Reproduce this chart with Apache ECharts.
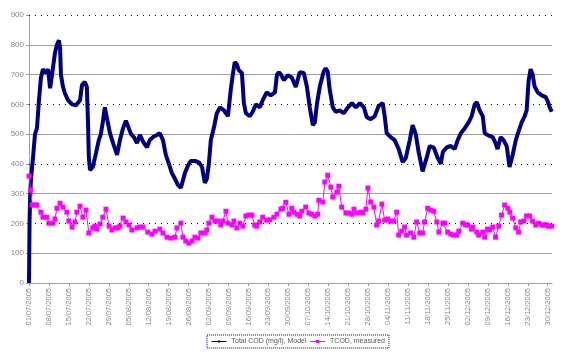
<!DOCTYPE html>
<html>
<head>
<meta charset="utf-8">
<script src="https://cdn.jsdelivr.net/npm/echarts@6/dist/echarts.min.js"></script>
<style>
  html, body { margin: 0; padding: 0; background: #fff; }
  #chart { width: 567px; height: 353px; }
</style>
</head>
<body>
<div id="chart"></div>
<script>
// days counted from 01/07/2005
const startDate = Date.UTC(2005, 6, 1)

const modelDays = [0, 0.2, 0.4, 0.7, 1.4, 2.1, 2.8, 3.5, 4.2, 4.9, 6.0, 6.7, 7.4, 8.1, 9.1, 9.8, 10.5, 10.9, 11.2, 11.9,
  12.6, 13.7, 15.1, 16.5, 17.9, 18.6, 19.6, 20.3, 20.7, 21.0, 21.4, 22.4, 23.5, 24.5, 25.2, 25.9, 26.6, 27.0, 27.7, 28.4,
  29.5, 30.9, 31.9, 33.0, 34.0, 34.7, 35.8, 36.8, 37.9, 38.9, 40.3, 41.4, 42.4, 43.5, 44.9, 45.9, 47.0, 48.0, 49.1, 50.1,
  51.2, 52.2, 53.3, 54.0, 54.7, 55.8, 56.8, 58.2, 59.6, 60.7, 61.7, 62.4, 63.1, 63.8, 64.9, 65.9, 67.0, 68.4, 69.8, 70.8,
  71.5, 72.2, 72.9, 73.6, 74.7, 75.4, 76.1, 77.5, 78.5, 79.6, 81.0, 82.0, 83.4, 84.8, 86.3, 87.0, 87.7, 88.4, 89.4, 90.8,
  92.2, 93.6, 95.0, 96.4, 97.5, 98.5, 99.6, 100.3, 101.0, 102.0, 103.4, 104.1, 104.8, 105.5, 106.6, 107.6, 109.0, 110.4, 111.9, 113.3,
  114.7, 116.1, 117.5, 118.5, 119.9, 121.3, 122.7, 124.1, 124.8, 125.5, 126.9, 128.3, 129.7, 131.1, 132.2, 133.6, 134.6, 135.7, 136.7, 138.1,
  139.5, 140.6, 142.0, 143.4, 144.5, 145.2, 146.6, 148.0, 149.4, 150.4, 151.5, 152.9, 154.3, 155.3, 156.4, 157.1, 158.1, 159.2, 159.9, 161.3,
  162.7, 163.7, 164.4, 165.5, 166.5, 167.6, 168.6, 169.7, 170.8, 171.8, 172.9, 173.9, 174.6, 175.3, 176.0, 176.7, 177.4, 178.5, 179.9, 181.3,
  182.0, 182.7, 183.4]
const modelValues = [0, 210, 290, 350, 420, 500, 520, 614, 690, 718, 705, 718, 654, 700, 772, 800, 815, 790, 700, 660,
  637, 614, 600, 597, 614, 665, 675, 658, 540, 420, 379, 390, 436, 480, 500, 540, 590, 594, 537, 503,
  470, 430, 480, 520, 545, 550, 500, 490, 470, 497, 470, 456, 480, 490, 497, 503, 480, 430, 400, 370,
  350, 330, 320, 318, 369, 395, 410, 410, 405, 390, 336, 350, 400, 480, 523, 570, 590, 580, 560, 650,
  700, 742, 735, 715, 705, 604, 570, 560, 575, 600, 590, 614, 640, 630, 640, 700, 708, 700, 681, 698,
  690, 658, 708, 705, 660, 590, 530, 540, 600, 658, 710, 721, 710, 650, 590, 575, 580, 570, 590, 604,
  590, 604, 590, 557, 550, 560, 595, 604, 560, 503, 490, 480, 450, 406, 420, 480, 530, 500, 440, 375,
  420, 460, 455, 420, 400, 440, 456, 460, 450, 480, 503, 520, 540, 560, 600, 607, 580, 560, 503, 495,
  490, 470, 450, 490, 480, 460, 390, 430, 480, 510, 540, 560, 580, 680, 718, 700, 660, 640, 630, 624,
  610, 590, 575]

const measuredDays = [0, 0.6, 1.1, 2.1, 2.8, 4.2, 4.9, 6.3, 7.0, 8.4, 9.1, 9.8, 10.9, 11.9, 13.3, 14.0, 15.1, 16.1, 16.8, 17.9,
  18.9, 20.0, 21.0, 22.4, 23.1, 23.8, 24.9, 25.9, 27.0, 28.1, 29.1, 30.2, 31.2, 31.9, 33.0, 34.0, 35.1, 36.1, 37.9, 38.9,
  40.0, 41.7, 43.1, 44.2, 45.9, 47.0, 48.4, 49.8, 51.2, 51.9, 53.3, 54.0, 55.0, 56.1, 57.2, 58.2, 59.3, 60.3, 61.7, 62.4,
  63.1, 64.2, 65.2, 66.3, 67.3, 68.0, 69.1, 69.8, 71.2, 71.9, 72.9, 74.0, 75.0, 76.1, 77.1, 78.2, 79.2, 79.9, 81.0, 82.0,
  83.4, 84.5, 85.9, 87.0, 88.4, 89.1, 90.1, 91.2, 92.2, 92.9, 94.0, 95.0, 95.7, 97.1, 98.2, 99.2, 100.3, 101.3, 101.7, 103.1,
  103.8, 104.8, 105.9, 106.6, 108.0, 108.7, 109.7, 111.2, 112.2, 113.3, 114.0, 115.0, 116.4, 117.1, 118.2, 118.9, 119.9, 121.0, 122.0, 122.7,
  123.8, 124.8, 125.9, 126.9, 128.0, 129.0, 129.7, 130.8, 131.8, 132.5, 133.9, 135.0, 136.0, 137.1, 138.1, 138.8, 139.9, 141.0, 142.0, 143.1,
  143.8, 145.2, 145.9, 146.9, 148.0, 149.0, 150.1, 150.8, 152.2, 153.2, 153.9, 155.3, 155.7, 157.1, 157.8, 159.2, 159.9, 160.9, 161.6, 162.7,
  163.7, 164.8, 165.8, 166.9, 168.0, 168.7, 169.7, 170.8, 171.8, 172.5, 173.6, 174.6, 175.7, 176.7, 177.8, 178.8, 179.9, 180.6, 181.6, 182.3,
  183.4]
const measuredValues = [359, 312, 262, 262, 262, 238, 221, 221, 201, 201, 215, 251, 268, 255, 238, 208, 188, 205, 238, 258,
  221, 245, 168, 185, 191, 181, 198, 221, 248, 191, 178, 185, 185, 191, 218, 205, 195, 178, 185, 188,
  188, 171, 164, 174, 181, 168, 154, 151, 154, 185, 201, 154, 141, 134, 141, 154, 151, 168, 168, 178,
  201, 221, 208, 208, 195, 208, 241, 201, 195, 208, 185, 201, 191, 225, 228, 228, 195, 191, 205, 221,
  211, 212, 221, 231, 248, 251, 271, 231, 251, 238, 231, 225, 241, 255, 235, 231, 225, 231, 278, 272,
  339, 362, 322, 289, 305, 325, 255, 235, 235, 231, 248, 235, 238, 235, 248, 319, 272, 255, 195, 208,
  265, 211, 215, 208, 208, 238, 161, 174, 188, 161, 168, 154, 205, 168, 168, 205, 251, 245, 241, 205,
  171, 201, 201, 171, 164, 161, 161, 174, 201, 195, 195, 181, 188, 171, 161, 171, 154, 181, 178, 188,
  154, 191, 228, 262, 251, 238, 218, 185, 171, 205, 208, 225, 225, 208, 195, 201, 195, 195, 195, 191,
  191]

const dottedGridValues = [200, 400, 600, 900]

const pad = (n) => (n < 10 ? '0' + n : '' + n)
const dayLabel = (d) => {
  const t = new Date(startDate + d * 86400000)
  return pad(t.getUTCDate()) + '/' + pad(t.getUTCMonth() + 1) + '/' + t.getUTCFullYear()
}

const chart = echarts.init(document.getElementById('chart'))

const gray = '#a0a0a0'
const tr = 'rgba(0,0,0,0)'

const option = {
  animation: false,
  backgroundColor: '#fff',
  textStyle: { fontFamily: 'Liberation Sans, Arial, sans-serif' },
  grid: { left: 29, right: 15, top: 15, bottom: 70, containLabel: false },
  legend: {
    left: 207,
    top: 335,
    orient: 'horizontal',
    padding: [3, 4, 3, 4],
    itemGap: 3,
    itemWidth: 15,
    itemHeight: 4,
    borderColor: '#000080',
    borderWidth: 1,
    borderType: 'dotted',
    lineStyle: { width: 1 },
    textStyle: { fontSize: 7, color: '#555', fontFamily: 'Liberation Sans, Arial, sans-serif' },
    data: ['Total COD (mg/l), Model', 'TCOD, measured']
  },
  xAxis: {
    type: 'value',
    min: 0,
    max: 183.5,
    interval: 7,
    axisLine: { show: true, lineStyle: { color: gray } },
    axisTick: { show: true, length: 3, lineStyle: { color: gray } },
    splitLine: { show: false },
    axisLabel: {
      rotate: 90,
      fontSize: 7.5,
      color: '#888',
      margin: 5,
      showMaxLabel: false,
      formatter: (v) => dayLabel(v)
    }
  },
  yAxis: {
    type: 'value',
    min: 0,
    max: 900,
    interval: 100,
    axisLine: { show: true, lineStyle: { color: gray } },
    axisTick: { show: true, length: 3, lineStyle: { color: gray } },
    axisLabel: { fontSize: 8, color: '#888', margin: 5 },
    splitLine: {
      show: true,
      lineStyle: { color: [gray, gray, tr, gray, tr, gray, tr, gray, gray, tr], width: 1 }
    }
  },
  series: [
    {
      name: 'Total COD (mg/l), Model',
      type: 'line',
      symbol: 'diamond',
      symbolSize: 4,
      showSymbol: false,
      lineStyle: { color: '#000080', width: 4 },
      itemStyle: { color: '#000080' },
      data: modelDays.map((d, i) => [d, modelValues[i]]),
      markLine: {
        silent: true,
        symbol: 'none',
        label: { show: false },
        lineStyle: { color: '#000080', width: 1, type: [1, 5] },
        data: dottedGridValues.map((v) => ({ yAxis: v }))
      },
      z: 2
    },
    {
      name: 'TCOD, measured',
      type: 'line',
      symbol: 'rect',
      symbolSize: 5,
      lineStyle: { color: '#ff00ff', width: 1 },
      itemStyle: { color: '#ff00ff' },
      data: measuredDays.map((d, i) => [d, measuredValues[i]]),
      z: 3
    }
  ]
}

chart.setOption(option)
</script>
</body>
</html>
